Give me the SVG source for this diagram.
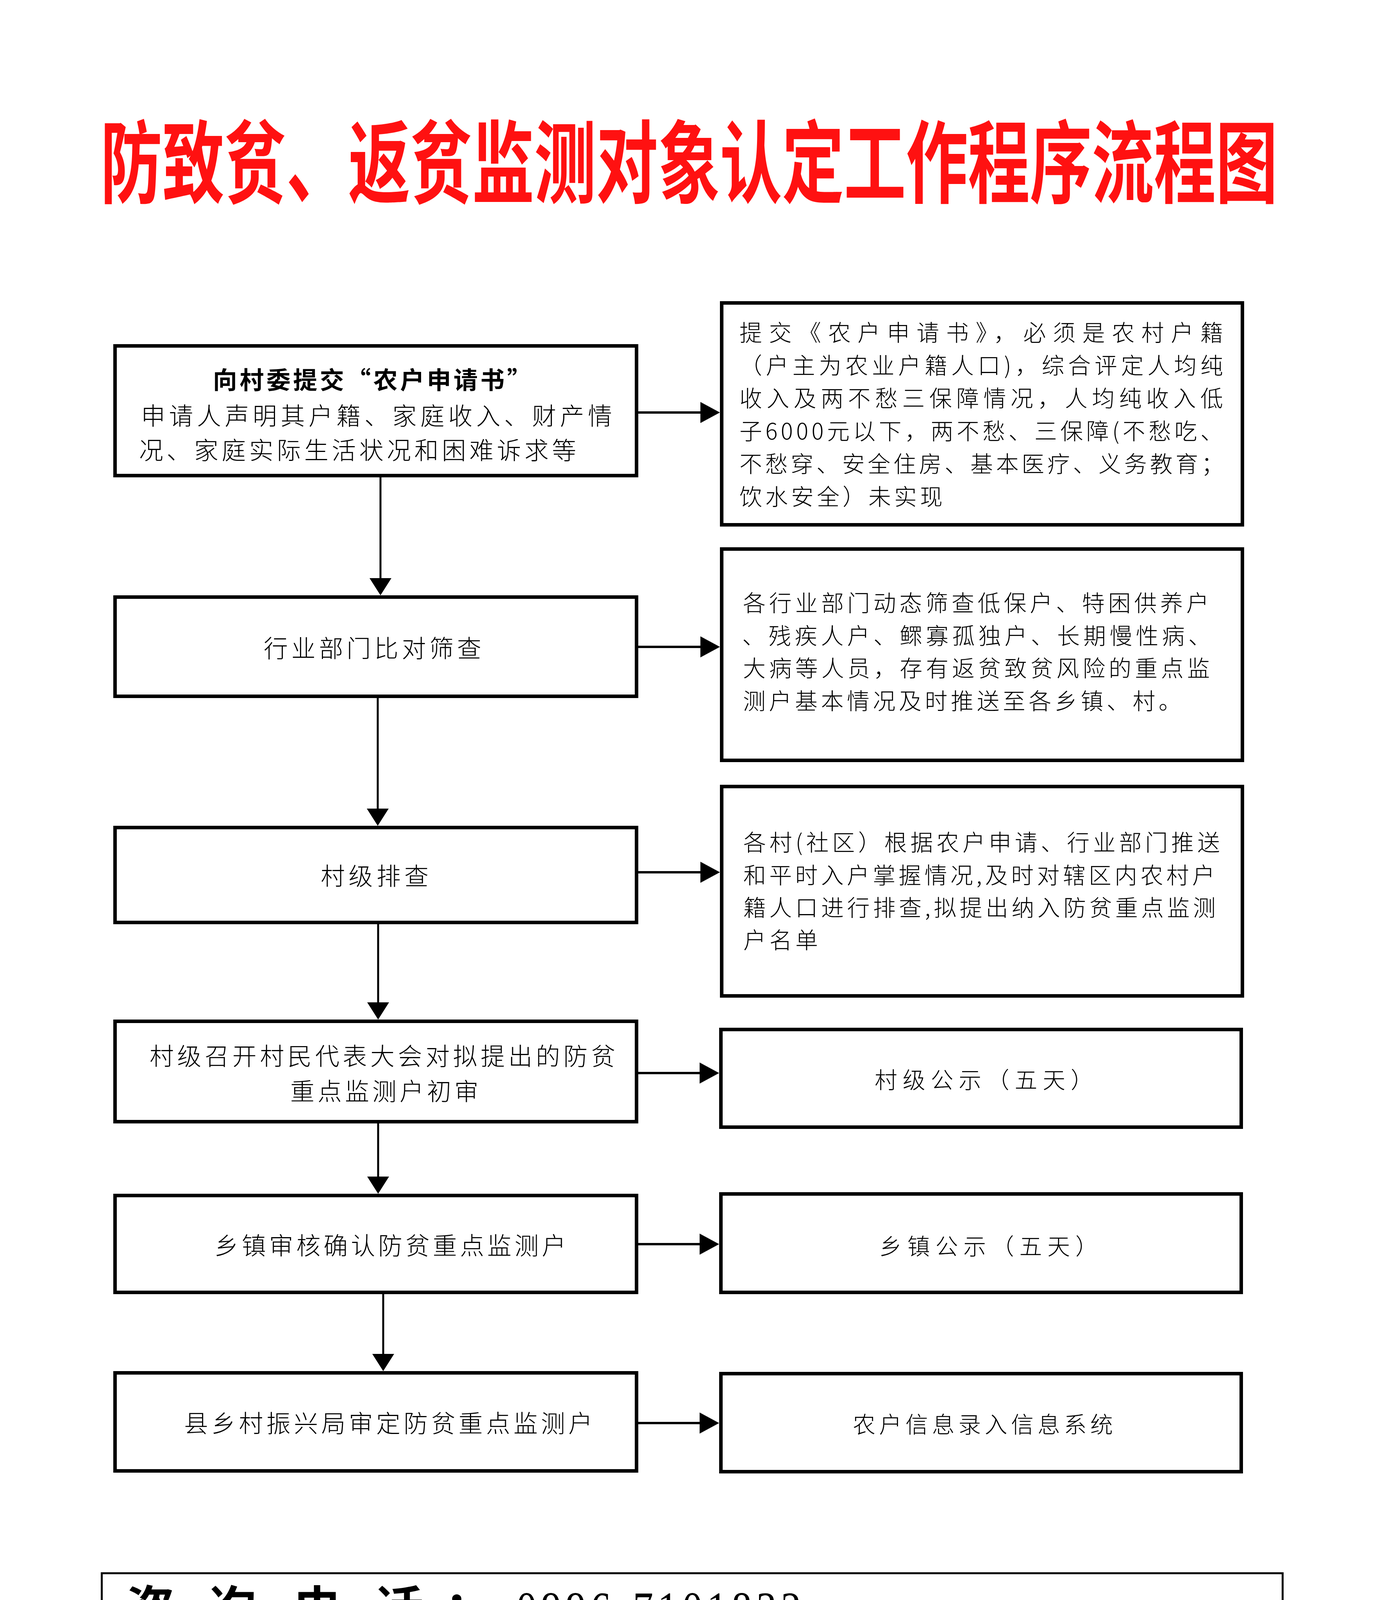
<svg xmlns="http://www.w3.org/2000/svg" width="3543" height="4724" viewBox="0 0 3543 4724">
<style>
.bg{fill:#fff}
.box{fill:#fff;stroke:#000;stroke-width:9}
.info{fill:none;stroke:#000;stroke-width:5}
.cn{font-family:"Noto Sans CJK SC","Noto Sans CJK JP",sans-serif;fill:#000;font-weight:300}
.bl{font-size:62px}
.br{font-size:58px}
.b{font-weight:700}
.title{font-family:"Noto Sans CJK SC","Noto Sans CJK JP",sans-serif;font-size:230px;font-weight:700;fill:#FF1111}
.big{font-size:125px}
.num{font-family:"Liberation Serif","Times New Roman",serif;font-size:127px;fill:#000}
.h{stroke:#000;stroke-width:6;fill:none}
.v{stroke:#000;stroke-width:5;fill:none}
</style>
<defs>
<marker id="ah" markerUnits="userSpaceOnUse" markerWidth="52" markerHeight="56" viewBox="0 0 52 56" refX="44" refY="27" orient="auto">
<path d="M0,0 L50,27 L0,54 Z" fill="#000"/>
</marker>
<marker id="av" markerUnits="userSpaceOnUse" markerWidth="46" markerHeight="58" viewBox="0 0 46 58" refX="38" refY="28" orient="auto">
<path d="M0,0 L44,28 L0,56 Z" fill="#000"/>
</marker>
</defs>
<rect class="bg" x="0" y="0" width="3543" height="4724"/>

<g id="title">
<text class="title" x="257" y="501" textLength="3014" lengthAdjust="spacingAndGlyphs">防致贫、返贫监测对象认定工作程序流程图</text>
</g>

<g id="connectors">
<line class="v" x1="974" y1="1222" x2="974" y2="1518" marker-end="url(#av)"/>
<line class="v" x1="967" y1="1787" x2="967" y2="2108" marker-end="url(#av)"/>
<line class="v" x1="968" y1="2366" x2="968" y2="2604" marker-end="url(#av)"/>
<line class="v" x1="968" y1="2876" x2="968" y2="3050" marker-end="url(#av)"/>
<line class="v" x1="981" y1="3313" x2="981" y2="3504" marker-end="url(#av)"/>
<line class="h" x1="1634" y1="1056" x2="1837" y2="1056" marker-end="url(#ah)"/>
<line class="h" x1="1634" y1="1656" x2="1837" y2="1656" marker-end="url(#ah)"/>
<line class="h" x1="1634" y1="2233" x2="1837" y2="2233" marker-end="url(#ah)"/>
<line class="h" x1="1634" y1="2747" x2="1835" y2="2747" marker-end="url(#ah)"/>
<line class="h" x1="1634" y1="3185" x2="1835" y2="3185" marker-end="url(#ah)"/>
<line class="h" x1="1634" y1="3643" x2="1835" y2="3643" marker-end="url(#ah)"/>
</g>

<g id="node-apply">
<rect class="box" x="294.5" y="885.5" width="1335" height="332"/>
<text class="cn bl b" x="545" y="996" textLength="815" lengthAdjust="spacing">向村委提交“农户申请书”</text>
<text class="cn bl" x="361" y="1088" textLength="1206" lengthAdjust="spacing">申请人声明其户籍、家庭收入、财产情</text>
<text class="cn bl" x="356" y="1176" textLength="1119" lengthAdjust="spacing">况、家庭实际生活状况和困难诉求等</text>
</g>

<g id="node-screen">
<rect class="box" x="294.5" y="1528.5" width="1335" height="254"/>
<text class="cn bl" x="675" y="1683" textLength="557" lengthAdjust="spacing">行业部门比对筛查</text>
</g>

<g id="node-village-check">
<rect class="box" x="294.5" y="2118.5" width="1335" height="243"/>
<text class="cn bl" x="821" y="2266" textLength="276" lengthAdjust="spacing">村级排查</text>
</g>

<g id="node-village-meeting">
<rect class="box" x="294.5" y="2614.5" width="1335" height="257"/>
<text class="cn bl" x="383" y="2727" textLength="1192" lengthAdjust="spacing">村级召开村民代表大会对拟提出的防贫</text>
<text class="cn bl" x="743" y="2817" textLength="482" lengthAdjust="spacing">重点监测户初审</text>
</g>

<g id="node-town-review">
<rect class="box" x="294.5" y="3060.5" width="1335" height="248"/>
<text class="cn bl" x="549" y="3212" textLength="900" lengthAdjust="spacing">乡镇审核确认防贫重点监测户</text>
</g>

<g id="node-county">
<rect class="box" x="294.5" y="3514.5" width="1335" height="251"/>
<text class="cn bl" x="471" y="3667" textLength="1046" lengthAdjust="spacing">县乡村振兴局审定防贫重点监测户</text>
</g>

<g id="note-apply">
<rect class="box" x="1847.5" y="775.5" width="1333" height="568"/>
<text class="cn br" x="1893" y="873" textLength="1238" lengthAdjust="spacing">提交《农户申请书》，必须是农村户籍</text>
<text class="cn br" x="1893" y="957" textLength="1238" lengthAdjust="spacing">（户主为农业户籍人口)，综合评定人均纯</text>
<text class="cn br" x="1893" y="1041" textLength="1238" lengthAdjust="spacing">收入及两不愁三保障情况，人均纯收入低</text>
<text class="cn br" x="1893" y="1125" textLength="1238" lengthAdjust="spacing">子6000元以下，两不愁、三保障(不愁吃、</text>
<text class="cn br" x="1893" y="1209" textLength="1240" lengthAdjust="spacing">不愁穿、安全住房、基本医疗、义务教育；</text>
<text class="cn br" x="1893" y="1293" letter-spacing="8">饮水安全）未实现</text>
</g>

<g id="note-screen">
<rect class="box" x="1847.5" y="1405.5" width="1333" height="541"/>
<text class="cn br" x="1902" y="1565" textLength="1193" lengthAdjust="spacing">各行业部门动态筛查低保户、特困供养户</text>
<text class="cn br" x="1900" y="1649" textLength="1200" lengthAdjust="spacing">、残疾人户、鳏寡孤独户、长期慢性病、</text>
<text class="cn br" x="1902" y="1732" textLength="1195" lengthAdjust="spacing">大病等人员，存有返贫致贫风险的重点监</text>
<text class="cn br" x="1902" y="1816" letter-spacing="8.5">测户基本情况及时推送至各乡镇、村。</text>
</g>

<g id="note-village-check">
<rect class="box" x="1847.5" y="2013.5" width="1333" height="536"/>
<text class="cn br" x="1903" y="2178" textLength="1220" lengthAdjust="spacing">各村(社区）根据农户申请、行业部门推送</text>
<text class="cn br" x="1903" y="2262" textLength="1207" lengthAdjust="spacing">和平时入户掌握情况,及时对辖区内农村户</text>
<text class="cn br" x="1903" y="2345" textLength="1209" lengthAdjust="spacing">籍人口进行排查,拟提出纳入防贫重点监测</text>
<text class="cn br" x="1903" y="2428" letter-spacing="8.5">户名单</text>
</g>

<g id="node-village-notice">
<rect class="box" x="1845.5" y="2635.5" width="1332" height="250"/>
<text class="cn br" x="2239" y="2786" textLength="560" lengthAdjust="spacing">村级公示（五天）</text>
</g>

<g id="node-town-notice">
<rect class="box" x="1845.5" y="3056.5" width="1332" height="252"/>
<text class="cn br" x="2251" y="3212" textLength="560" lengthAdjust="spacing">乡镇公示（五天）</text>
</g>

<g id="node-system">
<rect class="box" x="1845.5" y="3516.5" width="1332" height="251"/>
<text class="cn br" x="2183" y="3668" textLength="666" lengthAdjust="spacing">农户信息录入信息系统</text>
</g>

<g id="info">
<rect class="info" x="260.5" y="4027.5" width="3023" height="348"/>
<text class="cn big b" x="322 531 750 959" y="4164">咨询电话</text>
<text class="cn big b" x="1138" y="4164">：</text>
<text class="num" transform="translate(1322,4163) scale(0.82,1)" letter-spacing="13.5">0996-7101832</text>
<text class="cn big b" x="322" y="4324" textLength="752" lengthAdjust="spacing">政策法规依据</text>
<text class="cn big b" x="1138" y="4324">：</text>
<text class="cn big" transform="translate(1277,4325) scale(0.62,1)" letter-spacing="37.6">《自治州防贫动态监测和帮扶工作实施办法》</text>
</g>
</svg>
